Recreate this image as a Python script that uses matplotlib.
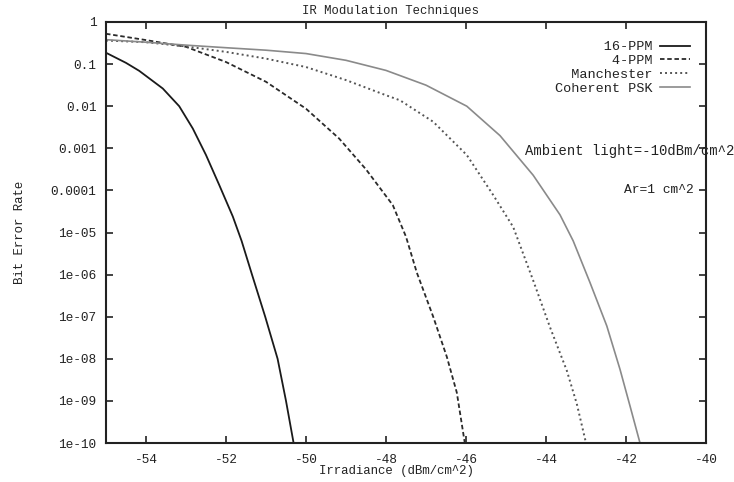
import numpy as np
import matplotlib
matplotlib.use("Agg")
import matplotlib.pyplot as plt

# ---- data ----
ppm16_x = [-55, -54.5, -54.17, -53.58, -53.17, -52.83, -52.5, -52.17, -51.83,
           -51.61, -51.35, -51.02, -50.71, -50.5, -50.31]
ppm16_y = [1.86e-1, 1.07e-1, 6.92e-2, 2.63e-2, 1.0e-2, 2.95e-3, 6.92e-4, 1.35e-4,
           2.40e-5, 6.31e-6, 1e-6, 1e-7, 1e-8, 1e-9, 1e-10]

ppm4_x = [-55, -54, -53, -52, -51, -50, -49.17, -48.5, -47.83, -47.5, -47.23,
          -46.82, -46.48, -46.23, -46.03]
ppm4_y = [5.25e-1, 3.72e-1, 2.57e-1, 1.12e-1, 3.80e-2, 8.71e-3, 1.70e-3, 3.16e-4,
          4.47e-5, 7.94e-6, 1.12e-6, 1e-7, 1.12e-8, 1.58e-9, 1e-10]

man_x = [-55, -54, -53, -52, -51, -50, -49, -48, -47.65, -46.82, -45.98, -45.32,
         -44.82, -44.69, -44.32, -43.9, -43.48, -43.23, -43.0]
man_y = [3.63e-1, 3.31e-1, 2.63e-1, 1.95e-1, 1.35e-1, 8.51e-2, 4.17e-2, 1.82e-2,
         1.38e-2, 4.27e-3, 6.92e-4, 7.76e-5, 1.35e-5, 6.31e-6, 7.24e-7, 5.62e-8,
         5.25e-9, 8.51e-10, 1e-10]

psk_x = [-55, -54, -53, -52, -51, -50, -49, -48, -47, -45.98, -45.15, -44.32,
         -43.65, -43.32, -42.9, -42.48, -42.15, -41.9, -41.65]
psk_y = [3.80e-1, 3.31e-1, 2.82e-1, 2.45e-1, 2.14e-1, 1.78e-1, 1.23e-1, 7.08e-2,
         3.16e-2, 1e-2, 2.0e-3, 2.29e-4, 2.63e-5, 6.31e-6, 6.46e-7, 6.03e-8,
         5.62e-9, 7.59e-10, 1e-10]

labels = ["16-PPM", "4-PPM", "Manchester", "Coherent PSK"]
x_ticks = [-54, -52, -50, -48, -46, -44, -42, -40]
y_ticks = [1, 0.1, 0.01, 0.001, 0.0001, 1e-5, 1e-6, 1e-7, 1e-8, 1e-9, 1e-10]
y_tick_labels = ["1", "0.1", "0.01", "0.001", "0.0001", "1e-05", "1e-06",
                 "1e-07", "1e-08", "1e-09", "1e-10"]

FONT = "Liberation Mono"
plt.rcParams["font.family"] = [FONT, "DejaVu Sans"]

fig = plt.figure(figsize=(7.34, 4.82), dpi=100)
ax = fig.add_axes([106/734, 1 - 443/482, 600/734, 421/482])

width = max(len(l) for l in labels)
pad = [l.rjust(width) for l in labels]

ax.plot(ppm16_x, ppm16_y, color="#1a1a1a", lw=1.3, label=pad[0])
ax.plot(ppm4_x, ppm4_y, color="#2a2a2a", lw=1.3, dashes=(2.5, 1.5), label=pad[1])
ax.plot(man_x, man_y, color="#555555", lw=1.4, dashes=(1, 1.6), label=pad[2])
ax.plot(psk_x, psk_y, color="#8a8a8a", lw=1.2, label=pad[3])

ax.set_yscale("log")
ax.set_xlim(-55, -40)
ax.set_ylim(1e-10, 1)
ax.set_xticks(x_ticks)
ax.set_xticklabels([str(t) for t in x_ticks])
ax.set_yticks(y_ticks)
ax.set_yticklabels(y_tick_labels)
ax.minorticks_off()
ax.yaxis.set_minor_locator(matplotlib.ticker.NullLocator())

ax.tick_params(axis="both", direction="in", length=5, width=1.2,
               top=True, right=True, labelsize=9.2, colors="#222222")
ax.tick_params(axis="y", pad=7)
ax.tick_params(axis="x", pad=8)
for s in ax.spines.values():
    s.set_linewidth(1.5)
    s.set_color("#222222")

fig.text(391/734, 1 - 11/482, "IR Modulation Techniques", ha="center",
         va="center", fontsize=8.8, color="#222222")
fig.text(396/734, 1 - 471/482, "Irradiance (dBm/cm^2)", ha="center",
         va="center", fontsize=8.9, color="#222222")
fig.text(20/734, 1 - 232/482, "Bit Error Rate", ha="center", va="center",
         rotation=90, fontsize=8.9, color="#222222")

ax.text(-44.52, 8.5e-4, "Ambient light=-10dBm/cm^2", ha="left", va="center",
        fontsize=10.0, color="#222222", clip_on=False)
ax.text(-42.05, 1.0e-4, "Ar=1 cm^2", ha="left", va="center",
        fontsize=9.4, color="#222222")

leg = ax.legend(loc="upper right", bbox_to_anchor=(690/734, 1 - 41/482),
                bbox_transform=fig.transFigure, frameon=False, markerfirst=False,
                handlelength=2.2, handletextpad=0.6, labelspacing=0.1,
                borderpad=0, borderaxespad=0,
                prop={"family": FONT, "size": 9.7})
for t in leg.get_texts():
    t.set_color("#222222")

fig.savefig("out.png", dpi=100)
